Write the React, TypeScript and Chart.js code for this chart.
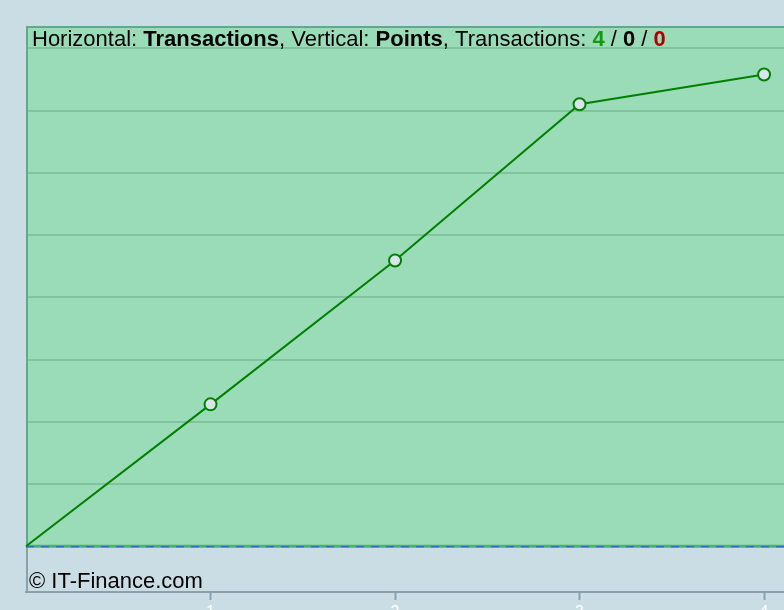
import React, { useEffect, useRef } from "react";
import { Chart, registerables } from "chart.js";

Chart.register(...registerables);

const transactions = [0, 1, 2, 3, 4];
const points = [0, 2.28, 4.59, 7.1, 7.58];
const pointRadii = [0, 6, 6, 6, 6];
const xTickValues = [1, 2, 3, 4];
const yGridValues = [1, 2, 3, 4, 5, 6, 7, 8];
const xMin = 0;
const xMax = 4.108;
const yMin = -0.734;
const yMax = 8.358;

const titleRuns: { text: string; bold: boolean; color: string }[] = [
  { text: "Horizontal: ", bold: false, color: "#000000" },
  { text: "Transactions", bold: true, color: "#000000" },
  { text: ", Vertical: ", bold: false, color: "#000000" },
  { text: "Points", bold: true, color: "#000000" },
  { text: ", Transactions: ", bold: false, color: "#000000" },
  { text: "4", bold: true, color: "#12990f" },
  { text: " / ", bold: false, color: "#000000" },
  { text: "0", bold: true, color: "#000000" },
  { text: " / ", bold: false, color: "#000000" },
  { text: "0", bold: true, color: "#b00000" },
];
const copyright = "© IT-Finance.com";

const FONT = "'Liberation Sans', Arial, sans-serif";
const BG = "#cbdde4";
const GREEN_FILL = "#9adcb7";
const GREEN_BORDER = "#5fab85";
const GRID = "#80c39c";

const decorPlugin = {
  id: "decor",
  beforeDraw(chart: any) {
    const ctx = chart.ctx;
    const { left, right, top, bottom } = chart.chartArea;
    const y = chart.scales.y;
    ctx.save();
    ctx.fillStyle = BG;
    ctx.fillRect(0, 0, chart.width, chart.height);
    const zero = y.getPixelForValue(0);
    ctx.fillStyle = GREEN_FILL;
    ctx.fillRect(left, top, right - left, zero - top);
    ctx.strokeStyle = "#8ca0aa";
    ctx.lineWidth = 2;
    ctx.beginPath();
    ctx.moveTo(left + 1, top);
    ctx.lineTo(left + 1, bottom);
    ctx.stroke();
    ctx.restore();
  },
  beforeDatasetsDraw(chart: any) {
    const ctx = chart.ctx;
    const { left, right, top } = chart.chartArea;
    const zero = chart.scales.y.getPixelForValue(0);
    ctx.save();
    ctx.strokeStyle = GREEN_BORDER;
    ctx.lineWidth = 2;
    ctx.beginPath();
    ctx.moveTo(left + 1, zero);
    ctx.lineTo(left + 1, top + 1);
    ctx.lineTo(right, top + 1);
    ctx.stroke();
    ctx.strokeStyle = "#3cba6c";
    ctx.lineWidth = 3;
    ctx.beginPath();
    ctx.moveTo(left, zero);
    ctx.lineTo(right, zero);
    ctx.stroke();
    ctx.strokeStyle = "#4444e0";
    ctx.lineWidth = 1;
    ctx.setLineDash([8, 7]);
    ctx.beginPath();
    ctx.moveTo(left, zero + 0.5);
    ctx.lineTo(right, zero + 0.5);
    ctx.stroke();
    ctx.restore();
  },
  afterDraw(chart: any) {
    const ctx = chart.ctx;
    ctx.save();
    ctx.textBaseline = "alphabetic";
    let x = 32;
    for (const r of titleRuns) {
      ctx.font = `${r.bold ? "bold " : ""}22px ${FONT}`;
      ctx.fillStyle = r.color;
      ctx.fillText(r.text, x, 46);
      x += ctx.measureText(r.text).width;
    }
    ctx.font = `22px ${FONT}`;
    ctx.fillStyle = "#000000";
    ctx.fillText(copyright, 29, 588);
    ctx.restore();
  },
};

export default function App() {
  const ref = useRef<HTMLCanvasElement>(null);
  useEffect(() => {
    if (!ref.current) return;
    const chart = new Chart(ref.current, {
      type: "line",
      data: {
        datasets: [
          {
            data: transactions.map((t, i) => ({ x: t, y: points[i] })),
            borderColor: "#008000",
            borderWidth: 2,
            pointRadius: pointRadii,
            pointHoverRadius: pointRadii,
            pointBorderWidth: 2,
            pointBackgroundColor: "#d9e5ea",
            pointBorderColor: "#008000",
            tension: 0,
            fill: false,
            clip: false as any,
          },
        ],
      },
      options: {
        animation: false,
        responsive: false,
        events: [],
        layout: { autoPadding: false, padding: { left: 26, top: 26, right: 0, bottom: 0 } },
        plugins: { legend: { display: false }, tooltip: { enabled: false }, title: { display: false } },
        scales: {
          x: {
            type: "linear",
            min: xMin,
            max: xMax,
            afterBuildTicks: (s: any) => {
              s.ticks = xTickValues.map((v) => ({ value: v }));
            },
            afterFit: (s: any) => {
              s.height = 48;
              s.paddingLeft = 0;
              s.paddingRight = 0;
            },
            grid: {
              drawOnChartArea: false,
              drawTicks: true,
              tickLength: 8,
              tickColor: "#8ca0aa",
              tickWidth: 2,
            },
            border: { display: true, color: "#8ca0aa", width: 2 },
            ticks: {
              color: "#ffffff",
              padding: 3,
              font: { family: FONT, size: 16 },
              maxRotation: 0,
              autoSkip: false,
            },
          },
          y: {
            type: "linear",
            min: yMin,
            max: yMax,
            afterBuildTicks: (s: any) => {
              s.ticks = yGridValues.map((v) => ({ value: v }));
            },
            afterFit: (s: any) => {
              s.width = 0;
              s.paddingTop = 0;
              s.paddingBottom = 0;
            },
            grid: { color: GRID, lineWidth: 2, drawTicks: false },
            border: { display: false },
            ticks: { display: false },
          },
        },
      },
      plugins: [decorPlugin],
    } as any);
    return () => chart.destroy();
  }, []);
  return (
    <div style={{ position: "fixed", left: 0, top: 0, width: 784, height: 610, overflow: "hidden", background: BG }}>
      <canvas ref={ref} width={784} height={640} style={{ display: "block", width: 784, height: 640 }} />
    </div>
  );
}
